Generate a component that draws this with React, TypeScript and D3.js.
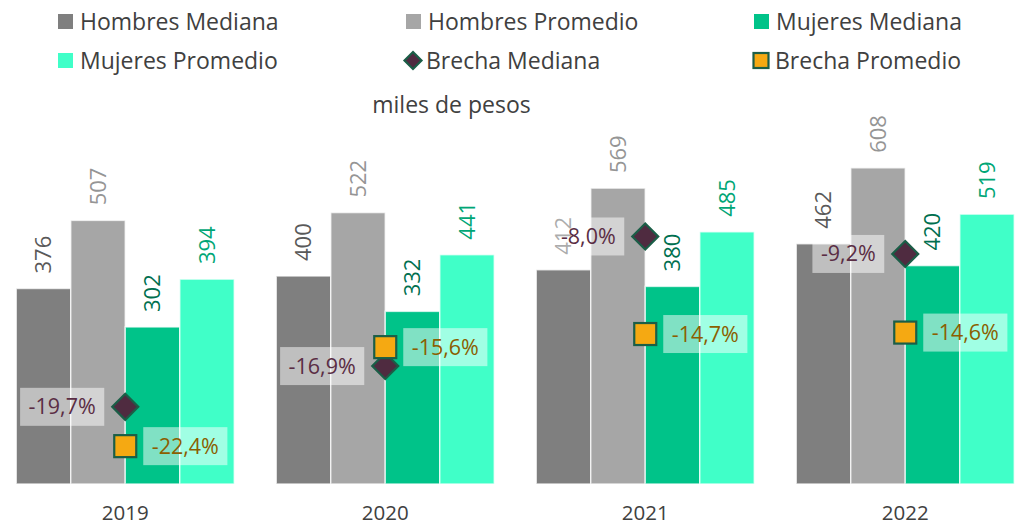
import React from 'react';
import * as d3 from 'd3';

const years = ['2019', '2020', '2021', '2022'];
const seriesNames = ['Hombres Mediana', 'Hombres Promedio', 'Mujeres Mediana', 'Mujeres Promedio'];
const hombresMediana = [376, 400, 412, 462];
const hombresPromedio = [507, 522, 569, 608];
const mujeresMediana = [302, 332, 380, 420];
const mujeresPromedio = [394, 441, 485, 519];
const brechaMediana = [-19.7, -16.9, -8.0, -9.2];
const brechaPromedio = [-22.4, -15.6, -14.7, -14.6];

const barColors = ['#7f7f7f', '#a6a6a6', '#00c389', '#40ffc8'];
const labelColors = ['#595959', '#959595', '#006f4f', '#00a676'];
const FONT = '"Open Sans", sans-serif';
const TEXT = '#404040';

const fmtPct = (v: number) => v.toFixed(1).replace('.', ',') + '%';

let measureCtx: CanvasRenderingContext2D | null = null;
function textWidth(s: string, size: number) {
	if (!measureCtx) measureCtx = document.createElement('canvas').getContext('2d');
	if (!measureCtx) return s.length * size * 0.55;
	measureCtx.font = `${size}px "Open Sans"`;
	return measureCtx.measureText(s).width;
}

const Diamond = ({ cx, cy, r }: { cx: number; cy: number; r: number }) => (
	<path
		d={`M${cx},${cy - r}L${cx + r},${cy}L${cx},${cy + r}L${cx - r},${cy}Z`}
		fill='#4f2b40'
		stroke='#1b5e47'
		strokeWidth={2.2}
	/>
);

const Square = ({ cx, cy, s }: { cx: number; cy: number; s: number }) => (
	<rect x={cx - s / 2} y={cy - s / 2} width={s} height={s} fill='#f5a912' stroke='#1b5e47' strokeWidth={2.2} />
);

const PctLabel = ({ x, y, text, color, side }: { x: number; y: number; text: string; color: string; side: 'left' | 'right' }) => {
	const w = textWidth(text, 21.5) + 17;
	const h = 38;
	const x0 = side === 'left' ? x - w : x;
	return (
		<g>
			<rect x={x0} y={y - h / 2} width={w} height={h} fill='#ffffff' fillOpacity={0.5} />
			<text x={x0 + w / 2} y={y} dy='0.35em' textAnchor='middle' fill={color} fontSize={21.5}>
				{text}
			</text>
		</g>
	);
};

export default function App() {
	const width = 1015;
	const height = 525;
	const values = [hombresMediana, hombresPromedio, mujeresMediana, mujeresPromedio];

	const x = d3.scaleBand<string>().domain(years).range([-4.75, 1035.25]).paddingInner(42 / 260).paddingOuter(21 / 260);
	const xInner = d3.scaleBand<string>().domain(seriesNames).range([0, x.bandwidth()]);
	const y = d3.scaleLinear().domain([0, 700]).range([484, 120]);
	const y2 = d3.scaleLinear().domain([-25, 0]).range([484, 120]);

	const legendItems = [
		{ name: 'Hombres Mediana', kind: 'bar', color: barColors[0], x: 58, cy: 21.5 },
		{ name: 'Hombres Promedio', kind: 'bar', color: barColors[1], x: 406, cy: 21.5 },
		{ name: 'Mujeres Mediana', kind: 'bar', color: barColors[2], x: 754, cy: 21.5 },
		{ name: 'Mujeres Promedio', kind: 'bar', color: barColors[3], x: 58, cy: 60.5 },
		{ name: 'Brecha Mediana', kind: 'diamond', color: '', x: 404, cy: 60.5 },
		{ name: 'Brecha Promedio', kind: 'square', color: '', x: 753, cy: 60.5 },
	];

	return (
		<svg
			width={width}
			height={height}
			style={{ position: 'absolute', left: 0, top: 0, display: 'block', fontFamily: FONT }}
		>
			<rect width={width} height={height} fill='#ffffff' />

			{/* legend */}
			{legendItems.map((d) => (
				<g key={d.name}>
					{d.kind === 'bar' && <rect x={d.x} y={d.cy - 7.5} width={15} height={15} fill={d.color} />}
					{d.kind === 'diamond' && <Diamond cx={d.x + 9} cy={d.cy} r={8.5} />}
					{d.kind === 'square' && <Square cx={d.x + 8} cy={d.cy} s={15} />}
					<text x={d.x + 22} y={d.cy} dy='0.36em' fontSize={23} fill={TEXT}>
						{d.name}
					</text>
				</g>
			))}

			<text x={451.5} y={113} textAnchor='middle' fontSize={23} fill={TEXT}>
				miles de pesos
			</text>

			{/* bars */}
			{years.map((yr, i) => (
				<g key={yr} transform={`translate(${x(yr)},0)`}>
					{seriesNames.map((s, j) => (
						<rect
							key={s}
							x={xInner(s)}
							y={y(values[j][i])}
							width={xInner.bandwidth()}
							height={y(0) - y(values[j][i])}
							fill={barColors[j]}
							stroke='#ffffff'
							strokeOpacity={0.7}
							strokeWidth={1.5}
						/>
					))}
					{seriesNames.map((s, j) => {
						const cx = (xInner(s) || 0) + xInner.bandwidth() / 2;
						const ty = y(values[j][i]) - 15;
						return (
							<text
								key={s}
								transform={`translate(${cx},${ty}) rotate(-90)`}
								dy='0.35em'
								fontSize={22}
								fill={labelColors[j]}
							>
								{values[j][i]}
							</text>
						);
					})}
				</g>
			))}

			{/* year axis */}
			{years.map((yr) => (
				<text key={yr} x={(x(yr) || 0) + x.bandwidth() / 2} y={520} textAnchor='middle' fontSize={20.5} fill={TEXT}>
					{yr}
				</text>
			))}

			{/* gap markers */}
			{years.map((yr, i) => {
				const cx = (x(yr) || 0) + x.bandwidth() / 2;
				return (
					<g key={yr}>
						<PctLabel x={cx - 21} y={y2(brechaMediana[i])} text={fmtPct(brechaMediana[i])} color='#5a2d44' side='left' />
						<PctLabel x={cx + 18} y={y2(brechaPromedio[i])} text={fmtPct(brechaPromedio[i])} color='#8b5e00' side='right' />
					</g>
				);
			})}
			{years.map((yr, i) => (
				<Diamond key={yr} cx={(x(yr) || 0) + x.bandwidth() / 2} cy={y2(brechaMediana[i])} r={13} />
			))}
			{years.map((yr, i) => (
				<Square key={yr} cx={(x(yr) || 0) + x.bandwidth() / 2} cy={y2(brechaPromedio[i])} s={22} />
			))}
		</svg>
	);
}
